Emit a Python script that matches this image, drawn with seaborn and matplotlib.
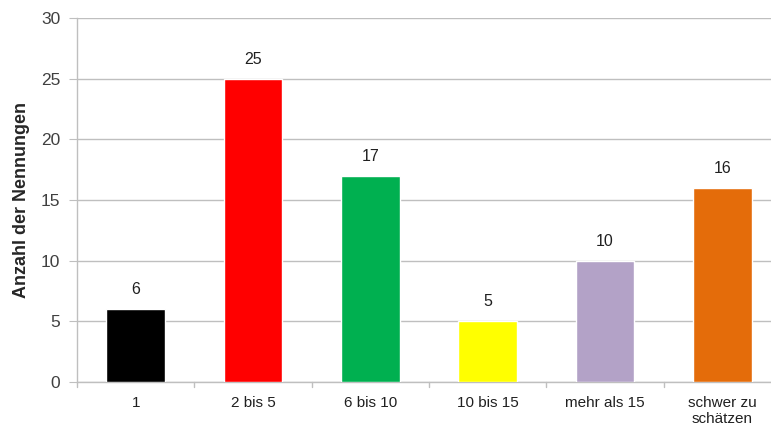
import pandas as pd
import seaborn as sns
import matplotlib.pyplot as plt

categories = ['1', '2 bis 5', '6 bis 10', '10 bis 15', 'mehr als 15', 'schwer zu\nschätzen']
counts = [6, 25, 17, 5, 10, 16]
colors = ['#000000', '#ff0000', '#00b050', '#ffff00', '#b3a2c7', '#e46c0a']

df = pd.DataFrame({'kategorie': categories, 'anzahl': counts})

sns.set_style('white')
plt.rcParams['font.family'] = ['Liberation Sans', 'DejaVu Sans']

fig = plt.figure(figsize=(7.71, 4.37), dpi=100)
ax = fig.add_axes([77 / 771, 55 / 437, 704 / 771, 364 / 437])

sns.barplot(data=df, x='kategorie', y='anzahl', hue='kategorie', palette=colors,
            legend=False, width=0.5, saturation=1, ax=ax, zorder=3)

ax.set_ylim(0, 30)
ax.set_xlim(-0.5, len(categories) - 0.5)
ax.set_yticks(range(0, 31, 5))
ax.yaxis.grid(True, color='#bfbfbf', linewidth=1, zorder=0)
for s in ['top', 'right']:
    ax.spines[s].set_visible(False)
for s in ['left', 'bottom']:
    ax.spines[s].set_color('#bfbfbf')
    ax.spines[s].set_linewidth(1)

ax.tick_params(axis='y', length=6, color='#bfbfbf', labelsize=12.5, labelcolor='#404040', pad=6, left=True)
ax.tick_params(axis='x', length=0, labelsize=11, labelcolor='#202020', pad=10)

# category boundary ticks on x axis
for b in range(len(categories) + 1):
    ax.plot([b - 0.5, b - 0.5], [0, -0.4], color='#bfbfbf', lw=1, clip_on=False)

for i, v in enumerate(counts):
    ax.annotate(str(v), (i, v), xytext=(0, 14), textcoords='offset points',
                ha='center', va='center', fontsize=11.5, color='#202020')

ax.set_xlabel('')
ax.set_ylabel('Anzahl der Nennungen', fontsize=13, fontweight='bold', labelpad=8)

fig.savefig('out.png', dpi=100)
